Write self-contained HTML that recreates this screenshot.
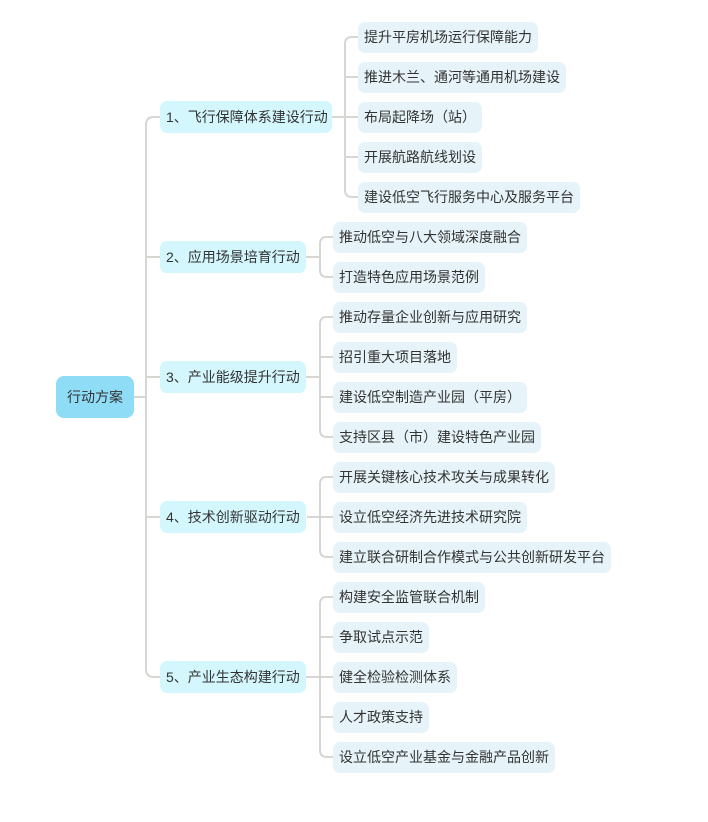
<!DOCTYPE html>
<html><head><meta charset="utf-8"><style>
body{margin:0;background:#fff;width:708px;height:822px;position:relative;overflow:hidden;font-family:"Liberation Sans","Noto Sans CJK SC",sans-serif;}
.n{position:absolute;box-sizing:border-box;font-size:14px;color:#333;line-height:30px;height:31px;padding:0 6px;border-radius:7px;background:#e6f3f8;white-space:nowrap}
.l1{background:#d3f7fd;height:32px;line-height:32px}
.root{background:#8fdcf7;height:42px;line-height:42px;border-radius:8px;padding:0;width:78px;text-align:center}
svg{position:absolute;left:0;top:0}
</style></head><body>
<svg width="708" height="822" fill="none" stroke="#d6d6d2" stroke-width="2">
<path d="M134 397H146"/>
<path d="M160 117H154Q146 117 146 125V669Q146 677 154 677H160"/>
<path d="M146 257H160M146 377H160M146 517H160"/>
<path d="M332 117H345"/>
<path d="M358 37H352Q345 37 345 44V190Q345 197 352 197H358"/>
<path d="M345 77H358M345 117H358M345 157H358"/>
<path d="M306 257H320"/>
<path d="M333 237H327Q320 237 320 244V270Q320 277 327 277H333"/>
<path d="M306 377H320"/>
<path d="M333 317H327Q320 317 320 324V430Q320 437 327 437H333"/>
<path d="M320 357H333M320 397H333"/>
<path d="M307 517H320"/>
<path d="M333 477H327Q320 477 320 484V550Q320 557 327 557H333"/>
<path d="M320 517H333"/>
<path d="M306 677H320"/>
<path d="M333 597H327Q320 597 320 604V750Q320 757 327 757H333"/>
<path d="M320 637H333M320 677H333M320 717H333"/>
</svg>
<div class="n root" style="left:56px;top:376px">行动方案</div>
<div class="n l1" style="left:160px;top:101px;width:172px">1、飞行保障体系建设行动</div>
<div class="n l1" style="left:160px;top:241px">2、应用场景培育行动</div>
<div class="n l1" style="left:160px;top:361px">3、产业能级提升行动</div>
<div class="n l1" style="left:160px;top:501px">4、技术创新驱动行动</div>
<div class="n l1" style="left:160px;top:661px">5、产业生态构建行动</div>

<div class="n" style="left:358px;top:22px">提升平房机场运行保障能力</div>
<div class="n" style="left:358px;top:62px">推进木兰、通河等通用机场建设</div>
<div class="n" style="left:358px;top:102px">布局起降场（站）</div>
<div class="n" style="left:358px;top:142px">开展航路航线划设</div>
<div class="n" style="left:358px;top:182px">建设低空飞行服务中心及服务平台</div>

<div class="n" style="left:333px;top:222px">推动低空与八大领域深度融合</div>
<div class="n" style="left:333px;top:262px">打造特色应用场景范例</div>

<div class="n" style="left:333px;top:302px">推动存量企业创新与应用研究</div>
<div class="n" style="left:333px;top:342px">招引重大项目落地</div>
<div class="n" style="left:333px;top:382px">建设低空制造产业园（平房）</div>
<div class="n" style="left:333px;top:422px">支持区县（市）建设特色产业园</div>

<div class="n" style="left:333px;top:462px">开展关键核心技术攻关与成果转化</div>
<div class="n" style="left:333px;top:502px">设立低空经济先进技术研究院</div>
<div class="n" style="left:333px;top:542px">建立联合研制合作模式与公共创新研发平台</div>

<div class="n" style="left:333px;top:582px">构建安全监管联合机制</div>
<div class="n" style="left:333px;top:622px">争取试点示范</div>
<div class="n" style="left:333px;top:662px">健全检验检测体系</div>
<div class="n" style="left:333px;top:702px">人才政策支持</div>
<div class="n" style="left:333px;top:742px">设立低空产业基金与金融产品创新</div>
</body></html>
